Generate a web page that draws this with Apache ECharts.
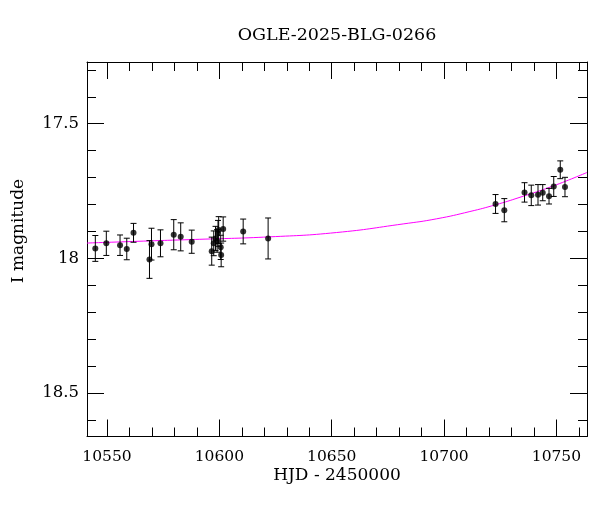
<!DOCTYPE html>
<html><head><meta charset="utf-8">
<script src="https://cdn.jsdelivr.net/npm/echarts@6/dist/echarts.min.js"></script>
<style>html,body{margin:0;padding:0;background:#fff}#c{width:600px;height:512px}</style>
</head><body><div id="c"></div>
<script>
const titleText = 'OGLE-2025-BLG-0266';
const xName = 'HJD - 2450000';
const yName = 'I magnitude';
const hjd = [10544.8, 10549.7, 10555.8, 10558.8, 10561.8, 10568.9, 10569.8, 10573.8, 10579.7, 10582.8, 10587.7,
  10596.6, 10597.5, 10598.3, 10599.0, 10599.4, 10599.7, 10600.6, 10600.8, 10601.7, 10610.6, 10621.7,
  10722.9, 10726.8, 10735.8, 10738.8, 10741.8, 10743.9, 10746.7, 10748.8, 10751.7, 10753.8];
const mag = [17.963, 17.944, 17.951, 17.965, 17.905, 18.004, 17.947, 17.944, 17.912, 17.920, 17.938,
  17.973, 17.944, 17.926, 17.935, 17.907, 17.895, 17.959, 17.987, 17.891, 17.900, 17.926,
  17.798, 17.821, 17.755, 17.766, 17.764, 17.756, 17.769, 17.733, 17.671, 17.735];
const magErr = [0.048, 0.045, 0.038, 0.040, 0.035, 0.070, 0.059, 0.050, 0.056, 0.052, 0.043,
  0.052, 0.046, 0.045, 0.042, 0.048, 0.050, 0.045, 0.044, 0.045, 0.046, 0.076,
  0.035, 0.043, 0.036, 0.038, 0.038, 0.030, 0.029, 0.037, 0.033, 0.036];
const modelX = [10541.1, 10569.0, 10591.3, 10622.4, 10652.1, 10681.8, 10696.7, 10711.5, 10722.9, 10733.8, 10748.6, 10763.6];
const modelY = [17.943, 17.935, 17.929, 17.920, 17.904, 17.872, 17.853, 17.826, 17.801, 17.773, 17.731, 17.681];
const xMajor = [10550, 10600, 10650, 10700, 10750];
const xMinor = [10560, 10570, 10580, 10590, 10610, 10620, 10630, 10640, 10660, 10670, 10680, 10690, 10710, 10720, 10730, 10740, 10760];
const yMajor = [17.5, 18, 18.5];
const yMinor = [17.3, 17.4, 17.6, 17.7, 17.8, 17.9, 18.1, 18.2, 18.3, 18.4, 18.6];
const xRange = [10541.1, 10763.6];
const yRange = [17.271, 18.661];

const FONT = 'DejaVu Serif';
const chart = echarts.init(document.getElementById('c'));
function xAx(pos, vals, len, labels, show) {
  return {
    type: 'value', position: pos, min: xRange[0], max: xRange[1], gridIndex: 0,
    axisLine: {show: show, lineStyle: {color: '#000', width: 1}},
    axisTick: {show: true, inside: true, length: len, customValues: vals, lineStyle: {color: '#000', width: 1}},
    axisLabel: {show: labels, customValues: vals, color: '#000', fontFamily: FONT, fontSize: 15.5, margin: 12,
      formatter: v => String(v)},
    splitLine: {show: false}
  };
}
function yAx(pos, vals, len, labels, show) {
  return {
    type: 'value', position: pos, min: yRange[0], max: yRange[1], inverse: true, gridIndex: 0,
    axisLine: {show: show, lineStyle: {color: '#000', width: 1}},
    axisTick: {show: true, inside: true, length: len, customValues: vals, lineStyle: {color: '#000', width: 1}},
    axisLabel: {show: labels, customValues: vals, color: '#000', fontFamily: FONT, fontSize: 16.5, margin: 8,
      formatter: v => String(v)},
    splitLine: {show: false}
  };
}
const pts = hjd.map((x, i) => [x, mag[i], magErr[i]]);
const model = modelX.map((x, i) => [x, modelY[i]]);
chart.setOption({
  animation: false,
  backgroundColor: '#fff',
  grid: {left: 87, top: 62, width: 500, height: 374.5, containLabel: false},
  xAxis: [xAx('bottom', xMajor, 17, true, true), xAx('bottom', xMinor, 9, false, false),
          xAx('top', xMajor, 17, false, true), xAx('top', xMinor, 9, false, false)],
  yAxis: [yAx('left', yMajor, 17, true, true), yAx('left', yMinor, 9, false, false),
          yAx('right', yMajor, 17, false, true), yAx('right', yMinor, 9, false, false)],
  graphic: [
    {type: 'text', x: 337, y: 35, style: {text: titleText, font: '17.5px "DejaVu Serif"', fill: '#000', align: 'center', verticalAlign: 'middle'}},
    {type: 'text', x: 337, y: 476, style: {text: xName, font: '17px "DejaVu Serif"', fill: '#000', align: 'center', verticalAlign: 'middle'}},
    {type: 'text', x: 19, y: 231, rotation: Math.PI / 2, style: {text: yName, font: '17px "DejaVu Serif"', fill: '#000', align: 'center', verticalAlign: 'middle'}}
  ],
  series: [
    {type: 'line', xAxisIndex: 0, yAxisIndex: 0, data: model, smooth: true, showSymbol: false, clip: true,
     lineStyle: {color: '#ff00ff', width: 1}, z: 2},
    {type: 'custom', xAxisIndex: 0, yAxisIndex: 0, data: pts, z: 3,
     renderItem: function (params, api) {
       const x = api.value(0), y = api.value(1), e = api.value(2);
       const top = api.coord([x, y - e]), bot = api.coord([x, y + e]);
       const cw = 3;
       const st = {stroke: '#000', lineWidth: 1};
       return {type: 'group', children: [
         {type: 'line', shape: {x1: top[0], y1: top[1], x2: bot[0], y2: bot[1]}, style: st},
         {type: 'line', shape: {x1: top[0] - cw, y1: top[1], x2: top[0] + cw, y2: top[1]}, style: st},
         {type: 'line', shape: {x1: bot[0] - cw, y1: bot[1], x2: bot[0] + cw, y2: bot[1]}, style: st}
       ]};
     }},
    {type: 'scatter', xAxisIndex: 0, yAxisIndex: 0, data: pts.map(p => [p[0], p[1]]), symbol: 'circle', symbolSize: 6,
     itemStyle: {color: '#000'}, z: 4}
  ]
});
</script></body></html>
